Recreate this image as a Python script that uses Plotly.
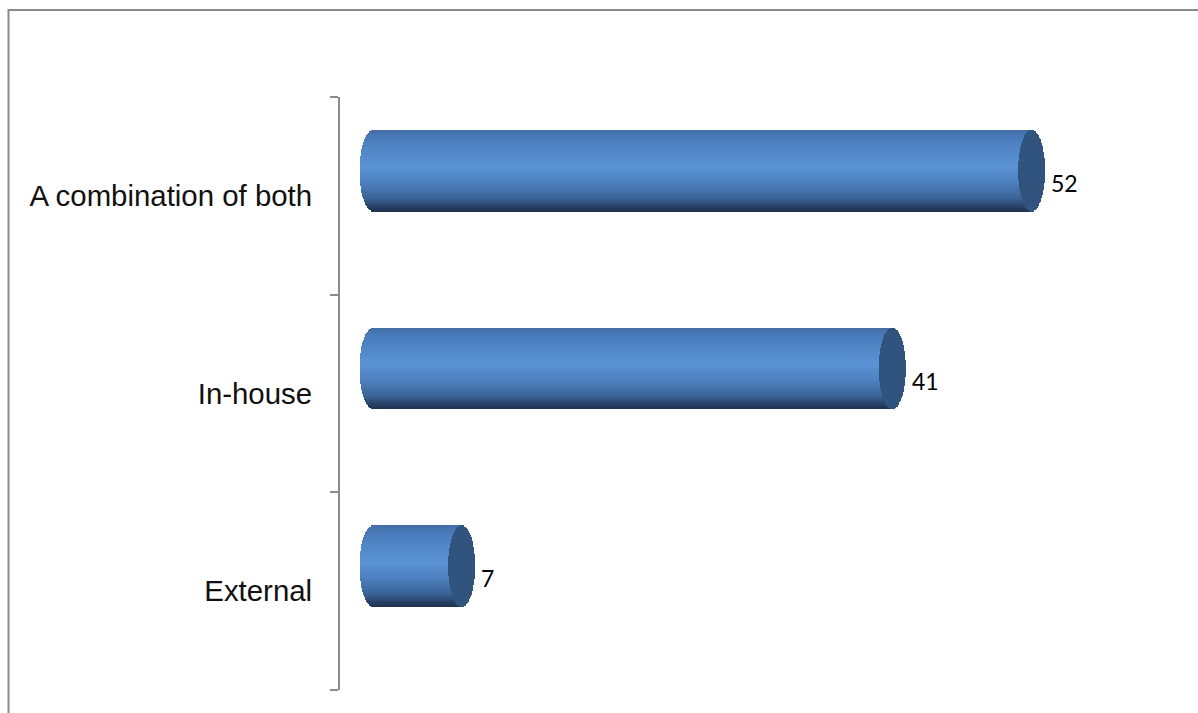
import numpy as np
import plotly.graph_objects as go

# ---- data ----
categories = ["External", "In-house", "A combination of both"]
values = [7, 41, 52]

# ---- layout constants ----
W, H = 1198, 713
L, R, T, B = 340, 98, 97, 23
PW = W - L - R
PH = H - T - B
K = 12.665                      # px per value unit
X0 = -(373 - L) / K             # axis range start
XRANGE = [X0, X0 + PW / K]
PXY = PH / 3.0                  # px per category unit

BAR_H = 81 / PXY                # bar thickness (category units)
SHIFT = 25.3 / PXY              # 3-D depth shift upward
CAP_A = 13.5 / K                # half-width of the elliptical cap (value units)

stops = [
    (0.00, (66, 109, 166)),
    (0.12, (74, 125, 189)),
    (0.45, (91, 148, 214)),
    (0.65, (77, 128, 191)),
    (0.85, (58, 99, 150)),
    (0.95, (38, 63, 99)),
    (1.00, (30, 51, 80)),
]
CAP_COLOR = "rgb(49,84,127)"


def grad(t):
    for (t0, c0), (t1, c1) in zip(stops[:-1], stops[1:]):
        if t0 <= t <= t1:
            f = (t - t0) / (t1 - t0) if t1 > t0 else 0
            c = [round(a + (b - a) * f) for a, b in zip(c0, c1)]
            return "rgb(%d,%d,%d)" % tuple(c)
    return "rgb(%d,%d,%d)" % stops[-1][1]


ypos = list(range(len(categories)))
vals = np.array(values, dtype=float)

fig = go.Figure()
N = 60
sh = BAR_H / N
for j in range(N):
    tc = (j + 0.5) / N
    u = 2 * tc - 1
    half = CAP_A * np.sqrt(max(0.0, 1 - u * u))
    off = SHIFT + BAR_H / 2 - (j + 1) * sh - sh * 0.03
    # body stripe
    fig.add_trace(go.Bar(
        orientation="h", y=ypos, x=vals + half, base=[-half] * len(vals),
        offset=off, width=sh * 1.06,
        marker=dict(color=grad(tc), line=dict(width=0)),
        hoverinfo="skip", showlegend=False,
    ))
for j in range(N):
    tc = (j + 0.5) / N
    u = 2 * tc - 1
    half = CAP_A * np.sqrt(max(0.0, 1 - u * u))
    off = SHIFT + BAR_H / 2 - (j + 1) * sh - sh * 0.03
    # end cap stripe
    fig.add_trace(go.Bar(
        orientation="h", y=ypos, x=[2 * half] * len(vals), base=vals - half,
        offset=off, width=sh * 1.06,
        marker=dict(color=CAP_COLOR, line=dict(width=0)),
        hoverinfo="skip", showlegend=False,
    ))

annotations = []
for i, v in enumerate(values):
    annotations.append(dict(
        x=v + CAP_A, y=i + SHIFT - 12.5 / PXY, xref="x", yref="y",
        text=str(v), showarrow=False, xanchor="left", yanchor="middle", xshift=4,
        font=dict(family="Lato, Open Sans, sans-serif", size=23, color="#000000"),
    ))

fig.update_layout(
    width=W, height=H,
    margin=dict(l=L, r=R, t=T, b=B, autoexpand=False),
    paper_bgcolor="white", plot_bgcolor="white",
    barmode="overlay", bargap=0,
    showlegend=False,
    annotations=annotations,
    shapes=[dict(
        type="rect", xref="paper", yref="paper",
        x0=(8.5 - L) / PW, x1=3, y0=-3, y1=(H - B - 10) / PH,
        line=dict(color="#8a8a8a", width=2), fillcolor="rgba(0,0,0,0)", layer="below",
    )],
    xaxis=dict(range=XRANGE, visible=False, fixedrange=True),
    yaxis=dict(
        range=[-0.5, 2.5], tickmode="array", tickvals=ypos, ticktext=categories,
        ticks="", showgrid=False, zeroline=False,
        showline=True, linecolor="#8c8c8c", linewidth=2,
        ticklabelstandoff=20,
        tickfont=dict(family="Liberation Sans, Arial, sans-serif", size=29.4, color="#111111"),
        minor=dict(tickmode="array", tickvals=[-0.5, 0.5, 1.5, 2.5], ticks="outside",
                   ticklen=8, tickwidth=2, tickcolor="#8c8c8c", showgrid=False),
        fixedrange=True,
    ),
)

fig.write_html("out.html")
